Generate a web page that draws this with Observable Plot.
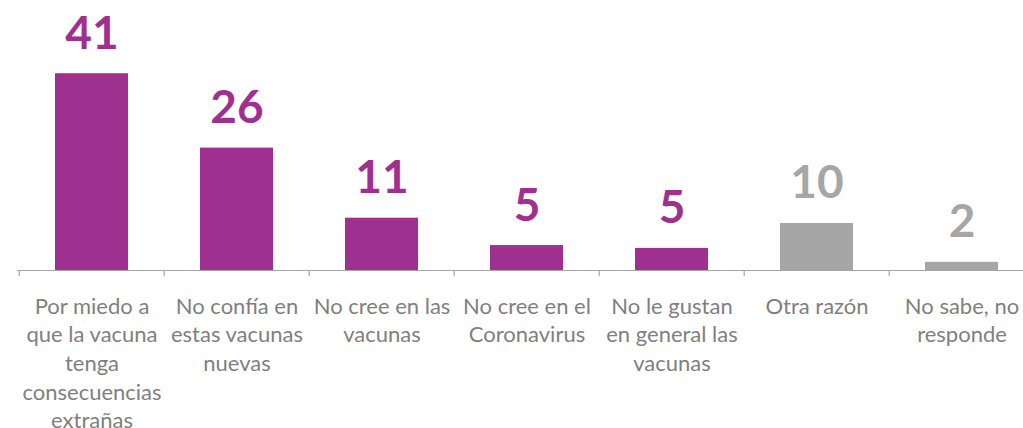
<!DOCTYPE html>
<html>
<head>
<meta charset="utf-8">
<script src="https://cdn.jsdelivr.net/npm/d3@7"></script>
<script src="https://cdn.jsdelivr.net/npm/@observablehq/plot@0.6"></script>
<style>
  html, body { margin: 0; padding: 0; background: #ffffff; }
  svg { display: block; }
</style>
</head>
<body>
<div id="chart"></div>
<script>
// Categories (wrapped as in the reference)
const categories = [
  "Por miedo a\nque la vacuna\ntenga\nconsecuencias\nextrañas",
  "No confía en\nestas vacunas\nnuevas",
  "No cree en las\nvacunas",
  "No cree en el\nCoronavirus",
  "No le gustan\nen general las\nvacunas",
  "Otra razón",
  "No sabe, no\nresponde"
];
// Bar heights
const values = [41.0, 25.5, 10.9, 5.2, 4.6, 9.8, 1.7];
// Data labels shown above the bars
const valueLabels = ["41", "26", "11", "5", "5", "10", "2"];
// Colour group of each bar
const groups = ["razón", "razón", "razón", "razón", "razón", "otro", "otro"];

const PURPLE = "#A0308F";
const GRAY = "#A6A6A6";
const TEXT_GRAY = "#7F7F7F";

const data = categories.map((c, i) => ({
  category: c, value: values[i], label: valueLabels[i], group: groups[i]
}));

const W = 1023, H = 428;
const xRange = [17, 1036];
const step = (xRange[1] - xRange[0]) / categories.length;

const chart = Plot.plot({
  width: W,
  height: H,
  marginLeft: 17,
  marginRight: 0,
  marginTop: 30,
  marginBottom: 158,
  style: { fontFamily: "Lato, 'Open Sans', sans-serif", background: "#ffffff", overflow: "hidden" },
  x: { domain: categories, range: xRange, paddingInner: 0.5, paddingOuter: 0.25, axis: null },
  y: { domain: [0, 50], axis: null },
  color: { domain: ["razón", "otro"], range: [PURPLE, GRAY] },
  marks: [
    Plot.barY(data, { x: "category", y: "value", fill: "group" }),
    Plot.ruleY([0], { stroke: GRAY, strokeWidth: 1.2 }),
    Plot.ruleX(data, { x: "category", y1: 0, y2: 0, insetBottom: -6, dx: -step / 2, stroke: GRAY, strokeWidth: 1.2 }),
    Plot.text(data, {
      x: "category", y: "value", text: "label", fill: "group",
      lineAnchor: "bottom", dy: -25,
      fontSize: 46, fontWeight: "bold"
    }),
    Plot.text(data, {
      x: "category", y: 0, text: "category",
      lineAnchor: "top", dy: 23, lineHeight: 1.3,
      fontSize: 22, fill: TEXT_GRAY
    })
  ]
});

document.getElementById("chart").appendChild(chart);
</script>
</body>
</html>
